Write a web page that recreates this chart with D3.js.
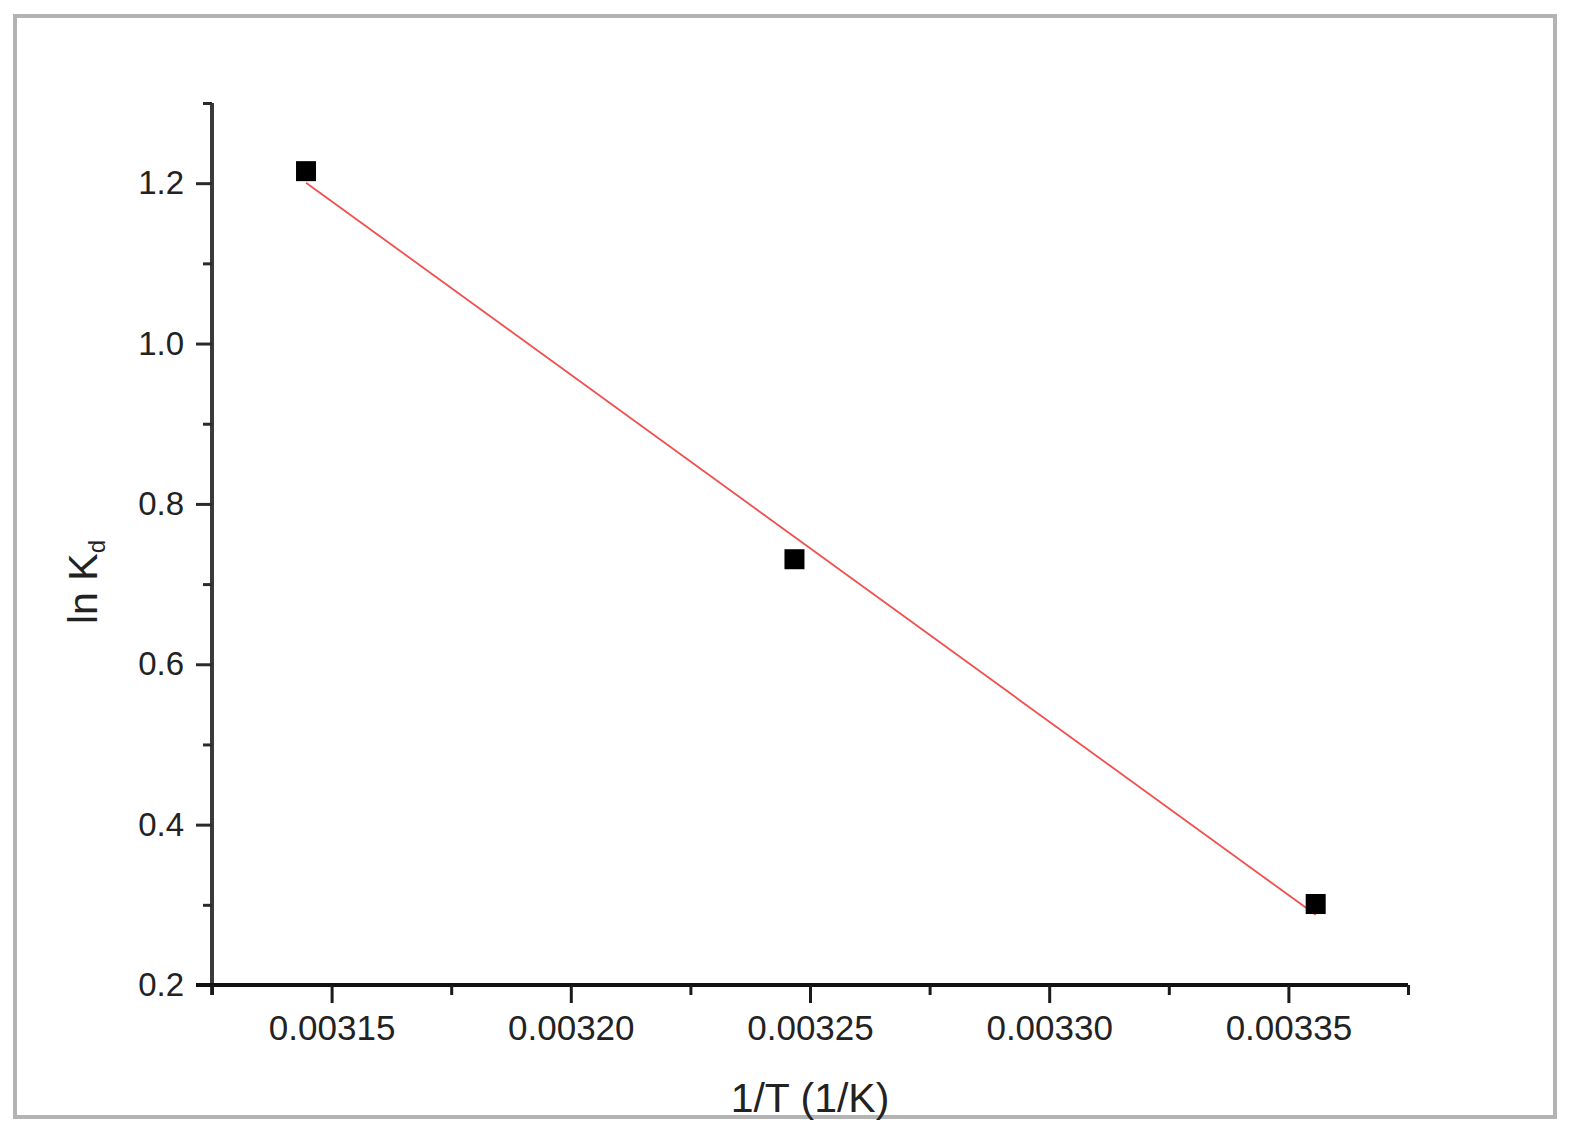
<!DOCTYPE html>
<html>
<head>
<meta charset="utf-8">
<script src="https://cdn.jsdelivr.net/npm/d3@7"></script>
<style>
  html, body { margin: 0; padding: 0; background: #fff; }
  svg { display: block; }
  text { font-family: "Liberation Sans", Arial, sans-serif; fill: #222; }
</style>
</head>
<body>
<svg id="chart" width="1574" height="1142"></svg>
<script>
// Data (T = 318, 308, 298 K)
const invT = [1/318, 1/308, 1/298];
const lnKd = [1.215, 0.731, 0.301];

const xMajorTicks = [0.00315, 0.00320, 0.00325, 0.00330, 0.00335];
const xMinorTicks = [0.003125, 0.003175, 0.003225, 0.003275, 0.003325, 0.003375];
const xTickLabels = ["0.00315", "0.00320", "0.00325", "0.00330", "0.00335"];
const yMajorTicks = [0.2, 0.4, 0.6, 0.8, 1.0, 1.2];
const yMinorTicks = [0.3, 0.5, 0.7, 0.9, 1.1, 1.3];
const yTickLabels = ["0.2", "0.4", "0.6", "0.8", "1.0", "1.2"];

const xTitle = "1/T (1/K)";

const svg = d3.select("#chart");

// outer frame
svg.append("rect")
  .attr("x", 15).attr("y", 16).attr("width", 1540).attr("height", 1101)
  .attr("fill", "none").attr("stroke", "#b3b3b3").attr("stroke-width", 4);

const x = d3.scaleLinear().domain([0.003125, 0.003375]).range([212, 1408]);
const y = d3.scaleLinear().domain([0.2, 1.3]).range([985, 103]);

// Y axis
const yAxisG = svg.append("g").attr("transform", `translate(${x(0.003125)},0)`);
yAxisG.call(d3.axisLeft(y).tickValues(yMajorTicks)
    .tickFormat((d, i) => yTickLabels[i]).tickSizeInner(16).tickSizeOuter(0).tickPadding(12));
yAxisG.append("g").call(d3.axisLeft(y).tickValues(yMinorTicks).tickFormat("").tickSizeInner(9).tickSizeOuter(0))
  .select(".domain").remove();
yAxisG.selectAll(".domain").attr("stroke", "#3a3a3a").attr("stroke-width", 4)
  .attr("d", `M0,${y(1.3)}V${y(0.2) + 10}`);
yAxisG.selectAll(".tick line").attr("stroke", "#2a2a2a").attr("stroke-width", 3);
yAxisG.selectAll(".tick text").style("font-size", "33px").attr("fill", "#2a2a2a")
  .style("font-family", "Liberation Sans, Arial, sans-serif");

// X axis
const xAxisG = svg.append("g").attr("transform", `translate(0,${y(0.2)})`);
xAxisG.call(d3.axisBottom(x).tickValues(xMajorTicks)
    .tickFormat((d, i) => xTickLabels[i]).tickSizeInner(18).tickSizeOuter(0).tickPadding(12));
xAxisG.append("g").call(d3.axisBottom(x).tickValues(xMinorTicks).tickFormat("").tickSizeInner(10).tickSizeOuter(0))
  .select(".domain").remove();
xAxisG.selectAll(".domain").attr("stroke", "#111").attr("stroke-width", 4)
  .attr("d", `M${x(0.003125) - 16},0H${x(0.003375)}`);
xAxisG.selectAll(".tick line").attr("stroke", "#1a1a1a").attr("stroke-width", 3);
xAxisG.selectAll(".tick text").style("font-size", "35px").attr("fill", "#2a2a2a")
  .style("font-family", "Liberation Sans, Arial, sans-serif");

// Linear fit (least squares of the data)
const n = invT.length;
const mx = d3.mean(invT), my = d3.mean(lnKd);
const slope = d3.sum(invT.map((v, i) => (v - mx) * (lnKd[i] - my))) / d3.sum(invT.map(v => (v - mx) ** 2));
const intercept = my - slope * mx;
const fitX = [d3.min(invT), d3.max(invT)];
svg.append("path")
  .datum(fitX)
  .attr("d", d3.line().x(d => x(d)).y(d => y(intercept + slope * d)))
  .attr("fill", "none").attr("stroke", "#f05050").attr("stroke-width", 1.8);

// markers
const ms = 20;
svg.selectAll("rect.pt").data(invT).enter().append("rect")
  .attr("class", "pt")
  .attr("x", d => x(d) - ms / 2)
  .attr("y", (d, i) => y(lnKd[i]) - ms / 2)
  .attr("width", ms).attr("height", ms)
  .attr("fill", "#000");

// axis titles
svg.append("text").attr("x", 810).attr("y", 1112).attr("text-anchor", "middle")
  .style("font-size", "41px").text(xTitle);

const yt = svg.append("text").attr("transform", "translate(97,582) rotate(-90)")
  .attr("text-anchor", "middle").style("font-size", "41px");
yt.append("tspan").text("ln K");
yt.append("tspan").attr("dy", 8).style("font-size", "24px").text("d");
</script>
</body>
</html>
